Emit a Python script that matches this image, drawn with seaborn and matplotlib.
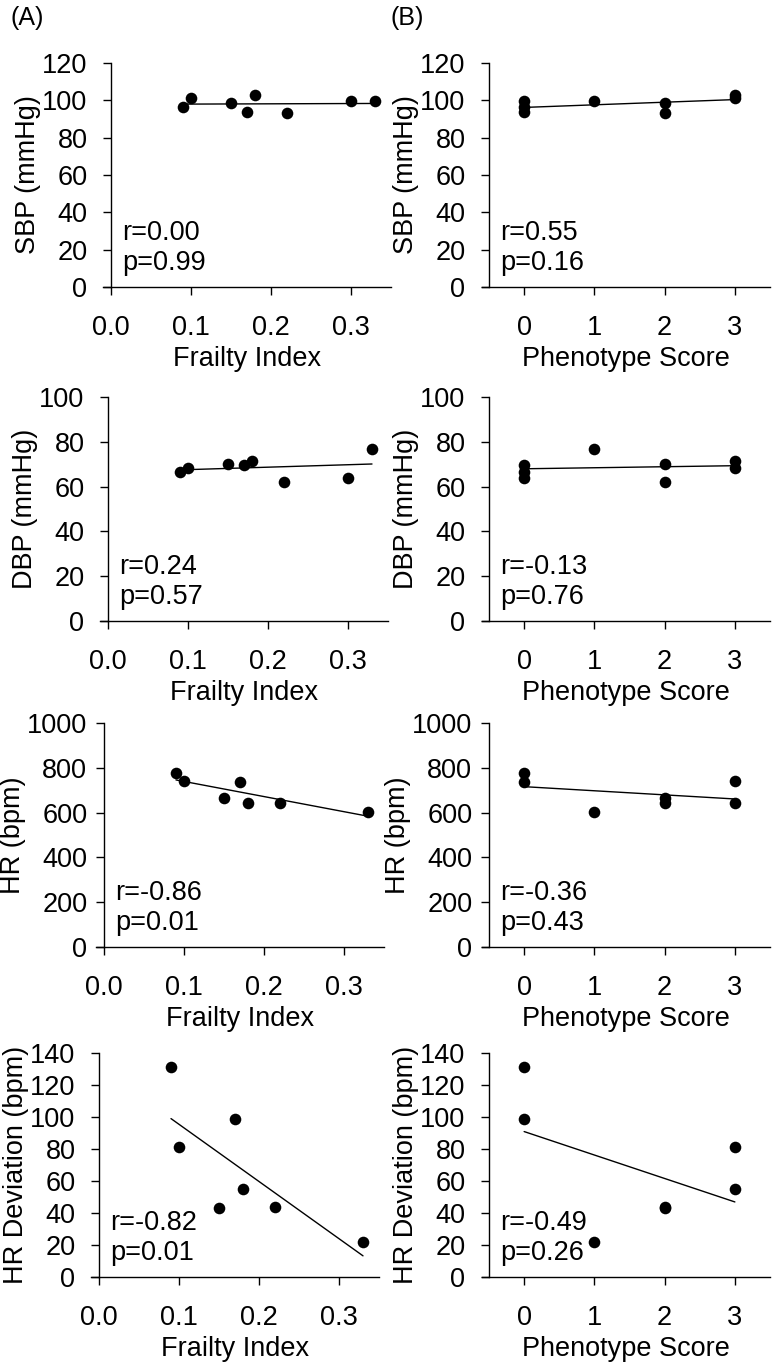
import numpy as np
import pandas as pd
import matplotlib
matplotlib.use('Agg')
import matplotlib.pyplot as plt
import seaborn as sns

frailty = [0.09, 0.10, 0.15, 0.17, 0.18, 0.22, 0.30, 0.33]
phenotype = [0, 3, 2, 0, 3, 2, 0, 1]
sbp = [96.5, 101.5, 98.5, 93.5, 103.0, 93.0, 99.5, 99.5]
dbp = [66.5, 68.1, 70.1, 69.7, 71.5, 62.1, 64.0, 76.7]
hr = [776, 743, 664, 736, 645, 642, np.nan, 603]
hr_dev = [131, 81, 43, 99, 55, 44, np.nan, 22]

variaveis = ['sbp', 'dbp', 'hr', 'hr_dev']
ylabels = ['SBP (mmHg)', 'DBP (mmHg)', 'HR (bpm)', 'HR Deviation (bpm)']
ymax = [120, 100, 1000, 140]
ystep = [20, 20, 200, 20]

r_a = ['r=0.00', 'r=0.24', 'r=-0.86', 'r=-0.82']
p_a = ['p=0.99', 'p=0.57', 'p=0.01', 'p=0.01']
r_b = ['r=0.55', 'r=-0.13', 'r=-0.36', 'r=-0.49']
p_b = ['p=0.16', 'p=0.76', 'p=0.43', 'p=0.26']

df = pd.DataFrame({'frailty': frailty, 'phenotype': phenotype, 'sbp': sbp,
                   'dbp': dbp, 'hr': hr, 'hr_dev': hr_dev})

sns.set_theme(style='ticks')
plt.rcParams['font.family'] = ['Liberation Sans', 'DejaVu Sans']
plt.rcParams['text.color'] = 'black'

W, H = 776, 1368
fig = plt.figure(figsize=(W / 100, H / 100), dpi=100)

# posicoes em pixels
tops = [63, 397, 723, 1053]
left_a = [103, 100, 96, 91]
left_b = 482
ax_w, ax_h = 288, 224
ypad = [11, 11, 6, 11]

fs = 19.5


def estilo(ax, xlim, spine_x, xticks, xfmt, row):
    ax.set_xlim(*xlim)
    ax.set_ylim(0, ymax[row])
    ax.set_yticks(np.arange(0, ymax[row] + 1, ystep[row]))
    ax.set_xticks(xticks)
    ax.set_xticklabels([xfmt.format(t) for t in xticks])
    ax.spines['left'].set_position(('data', spine_x))
    ax.spines['top'].set_visible(False)
    ax.spines['right'].set_visible(False)
    for s in ['left', 'bottom']:
        ax.spines[s].set_linewidth(1.0)
        ax.spines[s].set_color('black')
    ax.tick_params(axis='both', direction='out', length=6, width=1.0,
                   color='black', labelsize=fs, labelcolor='black')
    ax.tick_params(axis='x', pad=14)
    ax.tick_params(axis='y', pad=ypad[row])
    ax.set_ylabel(ylabels[row], fontsize=fs, color='black', labelpad=1)
    ax.xaxis.set_label_coords(0.5, -0.265)
    ax.grid(False)


for row, var in enumerate(variaveis):
    bottom = 1 - (tops[row] + ax_h) / H
    # coluna A: Frailty Index
    ax = fig.add_axes([left_a[row] / W, bottom, ax_w / W, ax_h / H])
    sns.regplot(data=df, x='frailty', y=var, ax=ax, ci=None, color='black',
                scatter_kws={'s': 70, 'linewidths': 0, 'alpha': 1},
                line_kws={'lw': 1.0})
    ax.set_xlabel('Frailty Index', fontsize=fs, color='black')
    estilo(ax, (-0.01, 0.35), 0, [0.0, 0.1, 0.2, 0.3], '{:.1f}', row)
    ax.text(0.066, 0.21, r_a[row], transform=ax.transAxes, fontsize=fs,
            va='baseline', color='black')
    ax.text(0.066, 0.076, p_a[row], transform=ax.transAxes, fontsize=fs,
            va='baseline', color='black')

    # coluna B: Phenotype Score
    ax = fig.add_axes([left_b / W, bottom, ax_w / W, ax_h / H])
    sns.regplot(data=df, x='phenotype', y=var, ax=ax, ci=None, color='black',
                scatter_kws={'s': 70, 'linewidths': 0, 'alpha': 1},
                line_kws={'lw': 1.0})
    ax.set_xlabel('Phenotype Score', fontsize=fs, color='black')
    estilo(ax, (-0.6, 3.5), -0.5, [0, 1, 2, 3], '{:d}', row)
    ax.text(0.0625, 0.21, r_b[row], transform=ax.transAxes, fontsize=fs,
            va='baseline', color='black')
    ax.text(0.0625, 0.076, p_b[row], transform=ax.transAxes, fontsize=fs,
            va='baseline', color='black')

fig.text(10 / W, 1 - 6 / H, '(A)', fontsize=18, va='top', ha='left')
fig.text(391 / W, 1 - 6 / H, '(B)', fontsize=18, va='top', ha='left')

fig.savefig('out.png', dpi=100)
